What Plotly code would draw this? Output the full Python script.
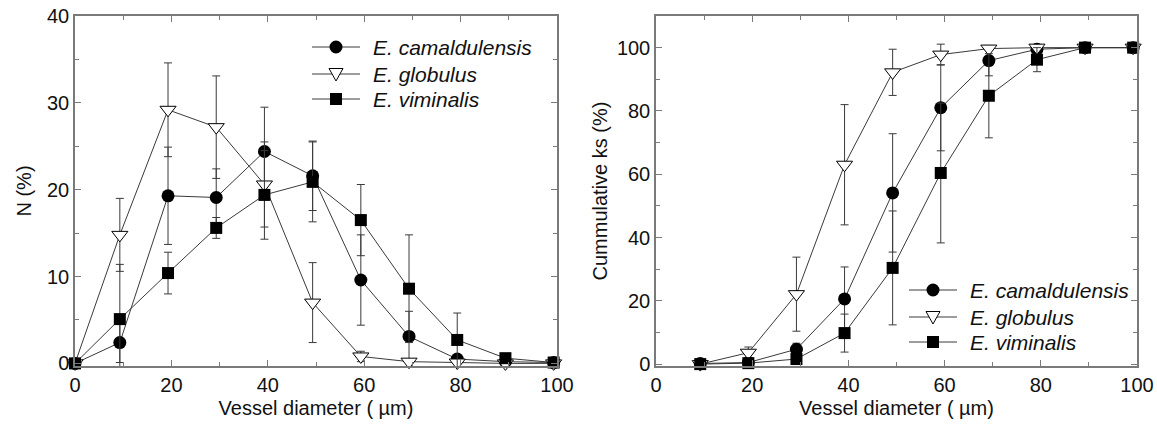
import plotly.graph_objects as go

# ---------------- data ----------------
x_left = [0, 9.3, 19.3, 29.3, 39.3, 49.3, 59.3, 69.3, 79.3, 89.3, 99.3]
cam_n = [0, 2.4, 19.3, 19.1, 24.4, 21.6, 9.6, 3.1, 0.5, 0.2, 0.1]
cam_n_err = [0, 2.3, 5.6, 3.3, 5.1, 4.0, 5.2, 2.9, 0.5, 0.2, 0.1]
glo_n = [0, 14.8, 29.2, 27.2, 20.6, 7.0, 0.8, 0.2, 0.1, 0.0, 0.0]
glo_n_err = [0, 4.2, 5.4, 5.9, 4.9, 4.6, 0.6, 0.2, 0.1, 0, 0]
vim_n = [0, 5.1, 10.4, 15.6, 19.4, 20.9, 16.5, 8.6, 2.7, 0.6, 0.1]
vim_n_err = [0, 6.3, 2.4, 1.2, 5.1, 4.6, 4.1, 6.2, 3.1, 0.4, 0.1]

x_right = [9.2, 19.2, 29.2, 39.2, 49.2, 59.2, 69.2, 79.2, 89.2, 99.2]
cam_ks = [0.2, 0.5, 4.7, 20.6, 54.1, 81.0, 95.9, 99.5, 100, 100]
cam_ks_err = [0.2, 0.4, 1.9, 10.1, 18.7, 13.6, 4.8, 1.0, 0, 0]
glo_ks = [0, 3.6, 22.1, 63.0, 92.2, 97.8, 99.7, 100, 100, 100]
glo_ks_err = [0, 1.8, 11.7, 19.0, 7.3, 3.3, 0.5, 0.3, 0, 0]
vim_ks = [0, 0.3, 1.6, 9.8, 30.4, 60.4, 84.8, 96.2, 100, 100]
vim_ks_err = [0, 0.3, 1.0, 6.0, 18.0, 22.1, 13.3, 3.8, 0, 0]

names = ["E. camaldulensis", "E. globulus", "E. viminalis"]

# ---------------- styles ----------------
LINE = "#3a3a3a"
AX = "#7a7a7a"
FONT = "Liberation Sans, Arial, sans-serif"
W, H = 1157, 426
styles = [
    dict(symbol="circle", size=13, color="black", line=dict(width=0)),
    dict(symbol="triangle-down", size=14, color="white", line=dict(width=1, color="black")),
    dict(symbol="square", size=12, color="black", line=dict(width=0)),
]

fig = go.Figure()

left_series = [(cam_n, cam_n_err), (glo_n, glo_n_err), (vim_n, vim_n_err)]
right_series = [(cam_ks, cam_ks_err), (glo_ks, glo_ks_err), (vim_ks, vim_ks_err)]

for i, (y, e) in enumerate(left_series):
    fig.add_trace(go.Scatter(
        x=x_left, y=y, mode="lines+markers", name=names[i],
        line=dict(color=LINE, width=1), marker=styles[i],
        error_y=dict(type="data", array=e, visible=True, color=LINE, thickness=1, width=4),
        xaxis="x", yaxis="y", showlegend=False, cliponaxis=False,
    ))

for i, (y, e) in enumerate(right_series):
    fig.add_trace(go.Scatter(
        x=x_right, y=y, mode="lines+markers", name=names[i],
        line=dict(color=LINE, width=1), marker=styles[i],
        error_y=dict(type="data", array=e, visible=True, color=LINE, thickness=1, width=4),
        xaxis="x2", yaxis="y2", showlegend=False, cliponaxis=False,
    ))

ydom = [(H - 366) / H, (H - 16) / H]


def xaxis(dom):
    return dict(
        domain=dom, range=[0, 100], dtick=20, tick0=0,
        ticks="inside", ticklen=6, tickwidth=1, tickcolor=AX,
        minor=dict(dtick=10, ticks="inside", ticklen=4, tickwidth=1, tickcolor=AX),
        showline=True, linecolor=AX, linewidth=1.5, mirror="ticks",
        showgrid=False, zeroline=False, automargin=False,
        tickfont=dict(family=FONT, size=20, color="#111"),
        title=dict(text="Vessel diameter ( \u00b5m)", font=dict(family=FONT, size=20, color="#111"), standoff=6),
    )


def yaxis(rng, dtick, minor, title, anchor, standoff):
    return dict(
        domain=ydom, range=rng, dtick=dtick, tick0=0, anchor=anchor,
        ticks="inside", ticklen=6, tickwidth=1, tickcolor=AX,
        minor=dict(dtick=minor, ticks="inside", ticklen=4, tickwidth=1, tickcolor=AX),
        showline=True, linecolor=AX, linewidth=1.5, mirror="ticks",
        showgrid=False, zeroline=False, automargin=False,
        tickfont=dict(family=FONT, size=20, color="#111"),
        title=dict(text=title, font=dict(family=FONT, size=20, color="#111"), standoff=standoff),
    )


# ---------------- legends (drawn as keys + text, in pixel positions) ----------------
def px(x):
    return x / W


def py(y):
    return 1 - y / H


shapes = []
annotations = []


def legend_block(x_line0, x_line1, x_text, rows):
    cx = (x_line0 + x_line1) / 2
    for i, ry in enumerate(rows):
        shapes.append(dict(type="line", xref="paper", yref="paper",
                           x0=px(x_line0), x1=px(x_line1), y0=py(ry), y1=py(ry),
                           line=dict(color=LINE, width=1)))
        if i == 0:
            r = 6.5
            shapes.append(dict(type="circle", xref="paper", yref="paper",
                               x0=px(cx - r), x1=px(cx + r), y0=py(ry + r), y1=py(ry - r),
                               fillcolor="black", line=dict(width=0)))
        elif i == 1:
            path = "M {:.5f},{:.5f} L {:.5f},{:.5f} L {:.5f},{:.5f} Z".format(
                px(cx - 7), py(ry - 5.5), px(cx + 7), py(ry - 5.5), px(cx), py(ry + 7))
            shapes.append(dict(type="path", xref="paper", yref="paper", path=path,
                               fillcolor="white", line=dict(color="black", width=1)))
        else:
            r = 6
            shapes.append(dict(type="rect", xref="paper", yref="paper",
                               x0=px(cx - r), x1=px(cx + r), y0=py(ry + r), y1=py(ry - r),
                               fillcolor="black", line=dict(width=0)))
        annotations.append(dict(xref="paper", yref="paper", x=px(x_text), y=py(ry),
                                xanchor="left", yanchor="middle", showarrow=False,
                                text="<i>" + names[i] + "</i>",
                                font=dict(family=FONT, size=21, color="#111")))


legend_block(312, 360, 371, [47, 74, 99])
legend_block(909, 957, 968, [290, 317, 342])

fig.update_layout(
    width=W, height=H,
    margin=dict(l=0, r=0, t=0, b=0),
    paper_bgcolor="white", plot_bgcolor="white",
    font=dict(family=FONT, size=20, color="#111"),
    xaxis=dict(xaxis([75 / W, 557 / W]), anchor="y"),
    yaxis=yaxis([-0.3, 40], 10, 5, "N (%)", "x", 10),
    xaxis2=dict(xaxis([656 / W, 1137 / W]), anchor="y2"),
    yaxis2=yaxis([-0.6, 110], 20, 10, "Cummulative ks (%)", "x2", 4),
    shapes=shapes,
    annotations=annotations,
    showlegend=False,
)

fig.write_html("out.html")
